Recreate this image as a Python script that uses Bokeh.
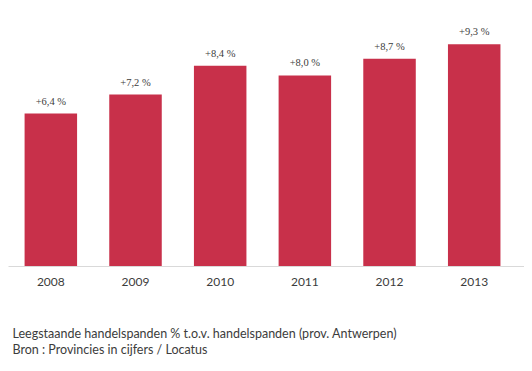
from bokeh.plotting import figure
from bokeh.models import ColumnDataSource, Range1d, FixedTicker, Title, LabelSet
from bokeh.embed import file_html
from bokeh.resources import INLINE

years = ["2008", "2009", "2010", "2011", "2012", "2013"]
values = [6.4, 7.2, 8.4, 8.0, 8.7, 9.3]
value_labels = ["+6,4 %", "+7,2 %", "+8,4 %", "+8,0 %", "+8,7 %", "+9,3 %"]
footnote1 = "Leegstaande handelspanden % t.o.v. handelspanden (prov. Antwerpen)"
footnote2 = "Bron : Provincies in cijfers / Locatus"

idx = list(range(len(years)))
src = ColumnDataSource(dict(x=idx, top=values, lab=value_labels))

FONT = "Lato"
TXT = "#3c3c3c"

p = figure(width=524, height=363, output_backend="svg", toolbar_location=None,
           x_range=Range1d(-0.5, 5.594), y_range=Range1d(0, 10.8),
           min_border_left=8, min_border_right=0, min_border_top=8, min_border_bottom=97)
p.outline_line_color = None
p.background_fill_color = "white"
p.border_fill_color = "white"
p.grid.visible = False
p.yaxis.visible = False

p.vbar(x="x", top="top", width=0.62, bottom=0, source=src,
       fill_color="#C8304A", line_color=None)

labels = LabelSet(x="x", y="top", text="lab", source=src, text_align="center",
                  text_baseline="bottom", y_offset=7, text_font=FONT,
                  text_font_size="10.5px", text_color=TXT)
p.add_layout(labels)

xa = p.xaxis[0]
xa.ticker = FixedTicker(ticks=idx)
xa.major_label_overrides = {i: y for i, y in zip(idx, years)}
xa.axis_line_color = "#D9D9D9"
xa.axis_line_width = 1
xa.major_tick_line_color = None
xa.minor_tick_line_color = None
xa.major_label_standoff = 5
xa.major_label_text_font = FONT
xa.major_label_text_font_size = "12px"
xa.major_label_text_color = TXT
# blank axis label used only as vertical spacer above the footnote
xa.axis_label = " "
xa.axis_label_text_font_size = "16px"
xa.axis_label_standoff = 13
xa.axis_label_text_color = "white"

note = Title(text=footnote1 + "\n" + footnote2, align="left", offset=4, standoff=4,
             text_font=FONT, text_font_size="12.5px", text_font_style="normal",
             text_color=TXT, text_line_height=1.05)
p.add_layout(note, "below")

open("out.html", "w").write(file_html(p, INLINE))
